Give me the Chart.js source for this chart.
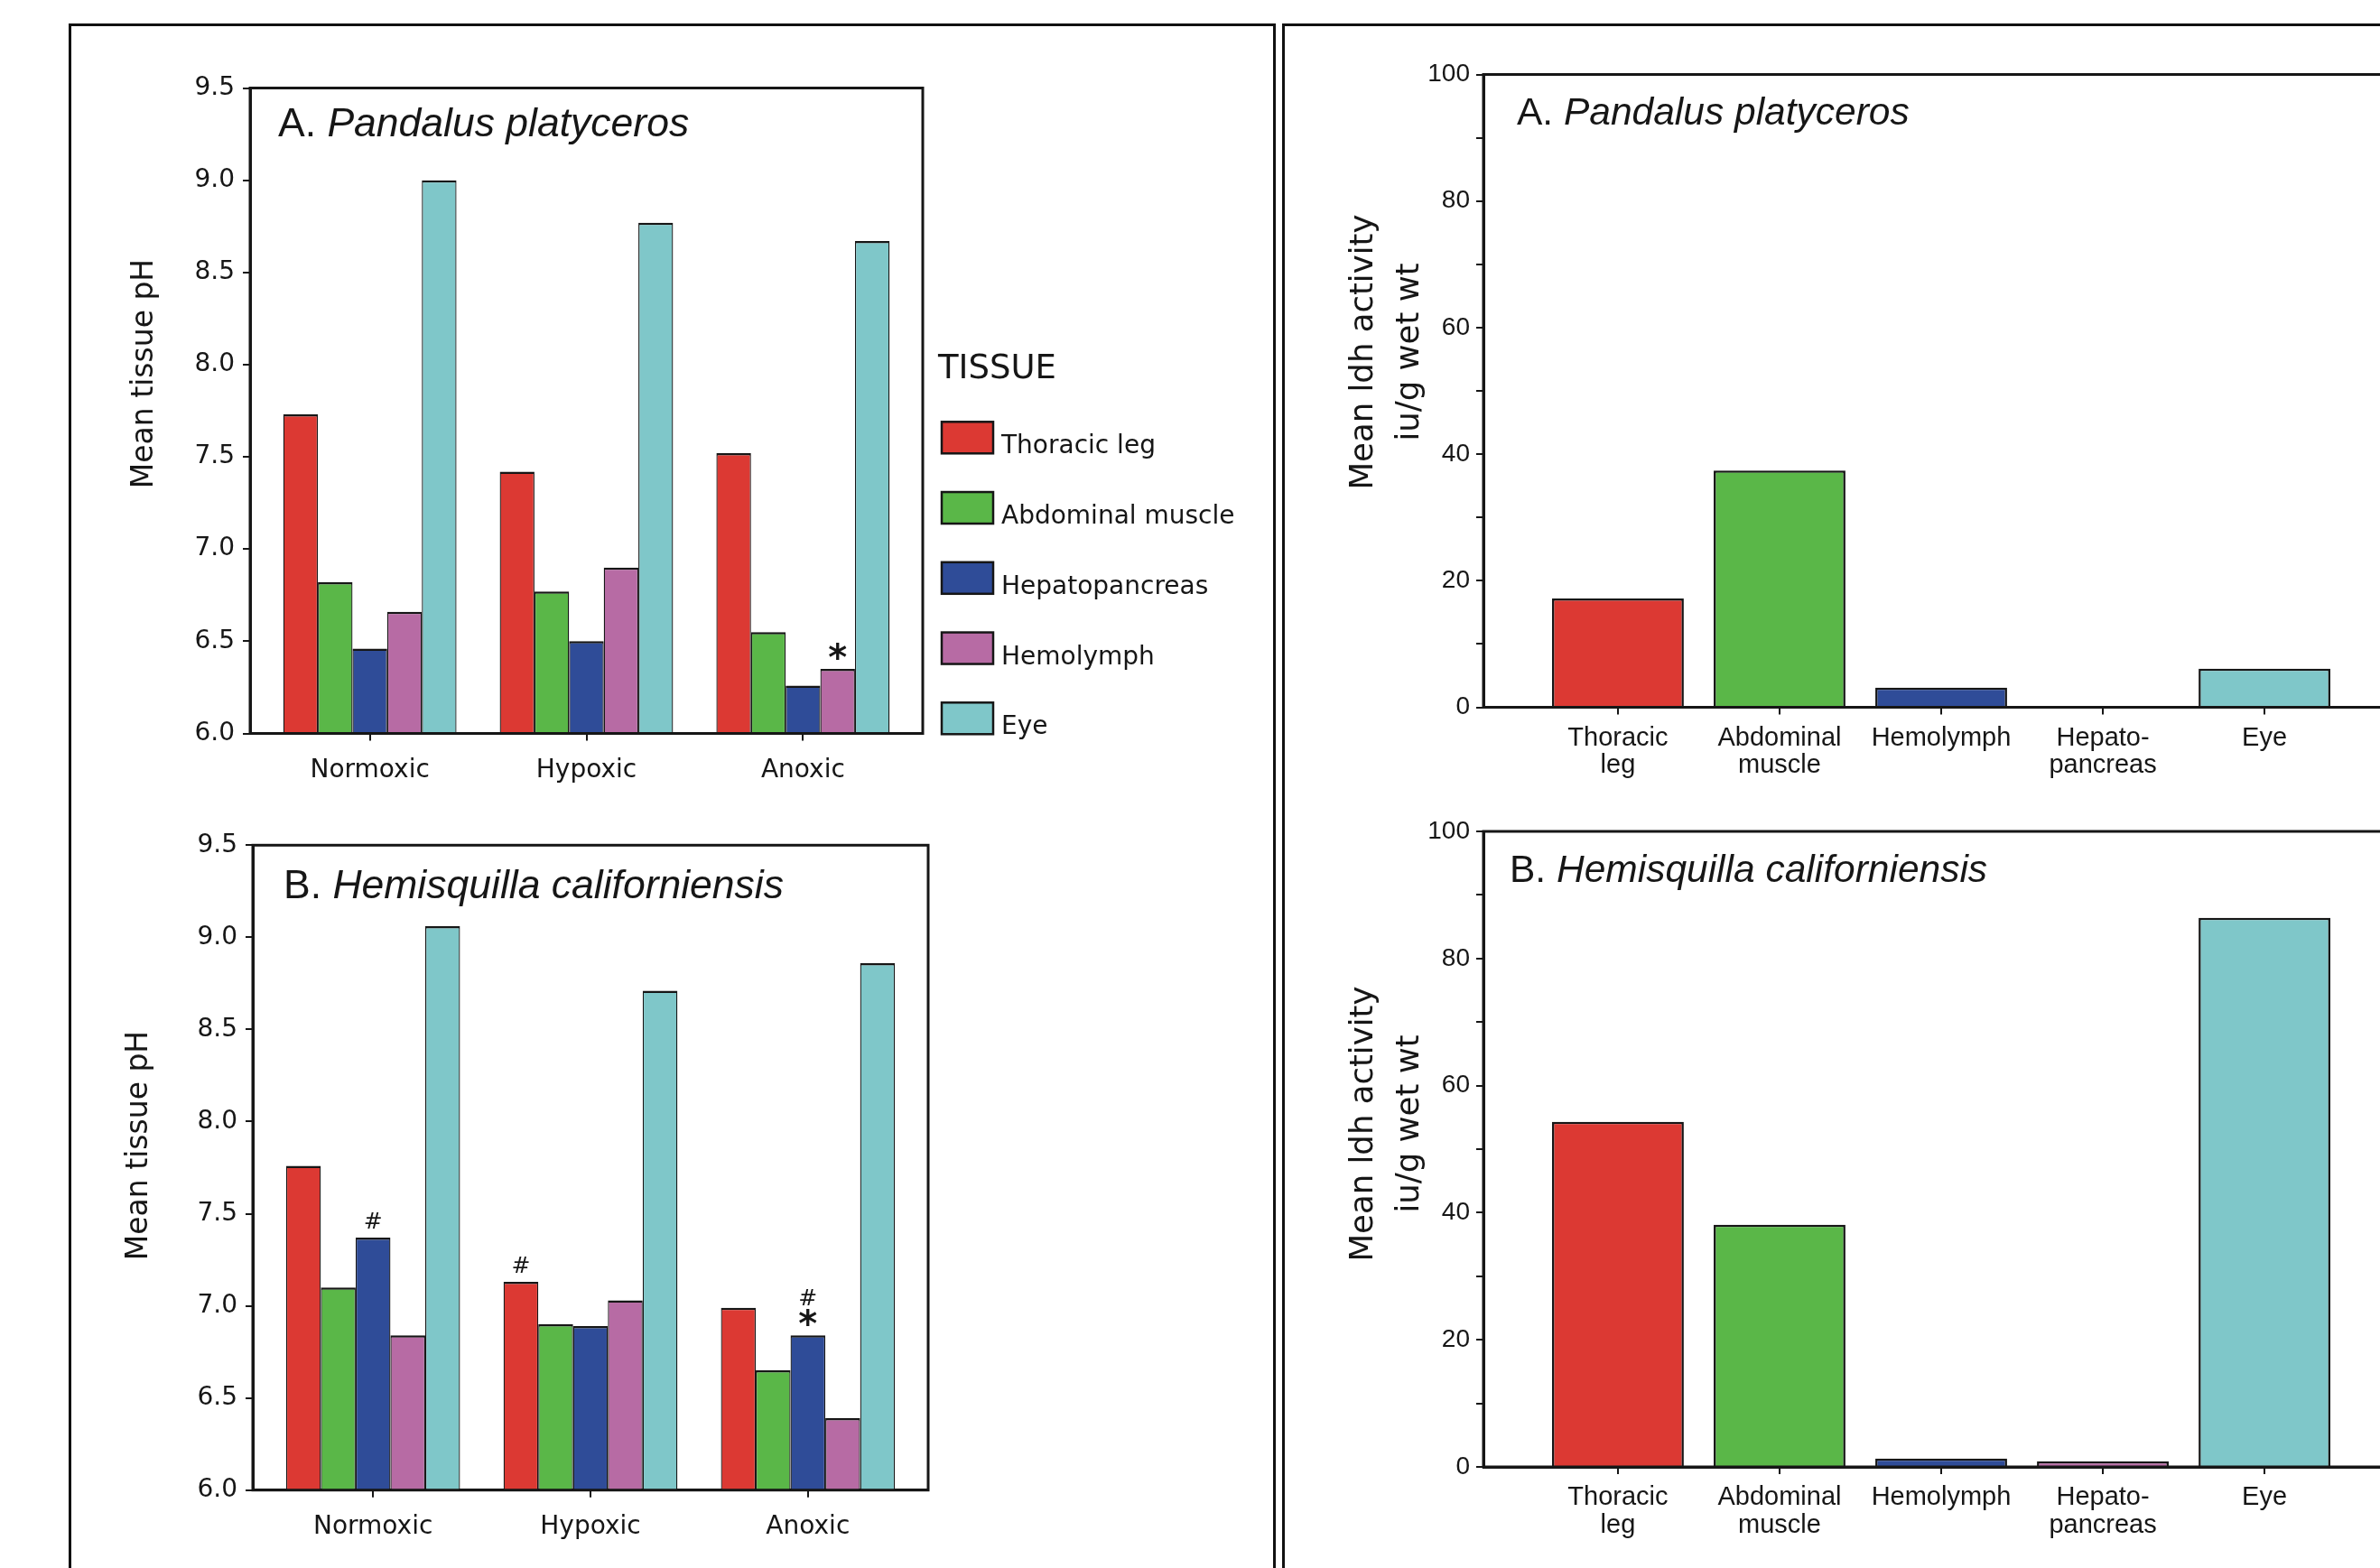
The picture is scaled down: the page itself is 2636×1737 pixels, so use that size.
<!DOCTYPE html>
<html>
<head>
<meta charset="utf-8">
<script src="https://cdn.jsdelivr.net/npm/chart.js@4.4.1/dist/chart.umd.min.js"></script>
<style>
    html, body { margin: 0; padding: 0; background: #fff; overflow: hidden; }
    #page { position: relative; width: 2636px; height: 1737px; overflow: hidden; background: #fff; }
    .panel { position: absolute; border: 3px solid #111; box-sizing: border-box; }
    canvas { position: absolute; }
</style>
</head>
<body>
<div id="page">
    <div class="panel" style="left:76px; top:26px; width:1337px; height:1800px;"></div>
    <div class="panel" style="left:1420px; top:26px; width:1400px; height:1800px;"></div>
    <canvas id="phA" width="1330" height="860" style="left:80px; top:29px;"></canvas>
    <canvas id="phB" width="1330" height="857" style="left:80px; top:880px;"></canvas>
    <canvas id="ldhA" width="1260" height="860" style="left:1424px; top:29px;"></canvas>
    <canvas id="ldhB" width="1260" height="857" style="left:1424px; top:880px;"></canvas>
</div>
<script>
const conditions = ['Normoxic', 'Hypoxic', 'Anoxic'];
const tissues = ['Thoracic leg', 'Abdominal muscle', 'Hepatopancreas', 'Hemolymph', 'Eye'];

// mean tissue pH, one row per tissue, columns follow conditions
const phPandalus = [
    [7.73, 7.42, 7.52],
    [6.82, 6.77, 6.55],
    [6.46, 6.50, 6.26],
    [6.66, 6.90, 6.35],
    [9.00, 8.77, 8.67]
];
const phHemisquilla = [
    [7.76, 7.13, 6.99],
    [7.10, 6.90, 6.65],
    [7.37, 6.89, 6.84],
    [6.84, 7.03, 6.39],
    [9.06, 8.71, 8.86]
];
const phMin = 6.0;
const phMax = 9.5;
const phStep = 0.5;

// significance marks: [tissue row, condition, symbols from top to bottom]
const marksPandalus = [[3, 2, '*']];
const marksHemisquilla = [[2, 0, '#'], [0, 1, '#'], [2, 2, '#*']];

// ldh activity, iu/g wet wt
const ldhTissues = [['Thoracic', 'leg'], ['Abdominal', 'muscle'], 'Hemolymph', ['Hepato-', 'pancreas'], 'Eye'];
const ldhPandalus = [17.2, 37.4, 3.1, 0, 6.1];
const ldhHemisquilla = [54.3, 38.1, 1.3, 0.9, 86.4];
const ldhMax = 100;

const tissueColors = ['#DC3933', '#5AB748', '#2F4C98', '#B76BA4', '#7FC7C9'];
const ldhColors = ['#DC3933', '#5AB748', '#2F4C98', '#B76BA4', '#7FC7C9'];

const ink = '#161616';
const gothic = 'DejaVu Sans';
const arial = 'Liberation Sans';

// page layout of each panel (page pixels)
const panels = {
    phA: {
        origin: [80, 29], area: [277, 97.5, 1022, 812.5],
        title: ['A.', 'Pandalus platyceros', 308, 150.7, 44.5],
        axisTitle: [['Mean tissue pH', 160]], axisTitleY: 414, axisFont: 33,
        marks: marksPandalus, legend: true
    },
    phB: {
        origin: [80, 880], area: [280, 936.3, 1028, 1650.7],
        title: ['B.', 'Hemisquilla californiensis', 314, 994.5, 44.5],
        axisTitle: [['Mean tissue pH', 154]], axisTitleY: 1269, axisFont: 33,
        marks: marksHemisquilla, legend: false
    },
    ldhA: {
        origin: [1424, 29], area: [1643, 82.5, 2657, 783.5],
        title: ['A.', 'Pandalus platyceros', 1680, 138, 42.5],
        axisTitle: [['Mean ldh activity', 1511], ['iu/g wet wt', 1562]], axisTitleY: 390, axisFont: 35.5,
        marks: [], legend: false
    },
    ldhB: {
        origin: [1424, 880], area: [1643, 921, 2657, 1625],
        title: ['B.', 'Hemisquilla californiensis', 1672, 977, 42.5],
        axisTitle: [['Mean ldh activity', 1511], ['iu/g wet wt', 1562]], axisTitleY: 1245, axisFont: 35.5,
        marks: [], legend: false
    }
};

const extras = {
    id: 'extras',
    afterDatasetsDraw(chart) {
        const cfg = panels[chart.canvas.id];
        const ctx = chart.ctx;
        ctx.save();
        ctx.fillStyle = ink;
        ctx.textAlign = 'center';
        ctx.textBaseline = 'alphabetic';
        cfg.marks.forEach(([ds, idx, sym]) => {
            const bar = chart.getDatasetMeta(ds).data[idx];
            let bottom = bar.y - 10;
            for (let k = sym.length - 1; k >= 0; k--) {
                ctx.font = sym[k] === '*' ? 'bold 40px "' + gothic + '"' : '25px "' + gothic + '"';
                const m = ctx.measureText(sym[k]);
                ctx.fillText(sym[k], bar.x, bottom - m.actualBoundingBoxDescent);
                bottom -= m.actualBoundingBoxAscent + m.actualBoundingBoxDescent + 3;
            }
        });
        ctx.restore();
    },
    afterDraw(chart) {
        const cfg = panels[chart.canvas.id];
        const ctx = chart.ctx;
        const ox = cfg.origin[0], oy = cfg.origin[1];
        const a = chart.chartArea;
        ctx.save();
        ctx.strokeStyle = ink;
        ctx.lineWidth = 3;
        ctx.strokeRect(a.left, a.top, a.right - a.left, a.bottom - a.top);

        ctx.fillStyle = ink;
        ctx.textAlign = 'left';
        ctx.textBaseline = 'alphabetic';
        const [prefix, species, tx, ty, ts] = cfg.title;
        ctx.font = ts + 'px "' + arial + '"';
        ctx.fillText(prefix + ' ', tx - ox, ty - oy);
        const w = ctx.measureText(prefix + ' ').width;
        ctx.font = 'italic ' + ts + 'px "' + arial + '"';
        ctx.fillText(species, tx - ox + w, ty - oy);

        ctx.font = cfg.axisFont + 'px "' + gothic + '"';
        ctx.textAlign = 'center';
        ctx.textBaseline = 'middle';
        cfg.axisTitle.forEach(([text, x]) => {
            ctx.save();
            ctx.translate(x - ox, cfg.axisTitleY - oy);
            ctx.rotate(-Math.PI / 2);
            ctx.fillText(text, 0, 0);
            ctx.restore();
        });

        if (cfg.legend) {
            ctx.textAlign = 'left';
            ctx.textBaseline = 'alphabetic';
            ctx.font = '37px "' + gothic + '"';
            ctx.fillText('TISSUE', 1039 - ox, 419 - oy);
            ctx.font = '28px "' + gothic + '"';
            ctx.lineWidth = 2.5;
            chart.data.datasets.forEach((ds, i) => {
                const top = 467.3 + i * 77.75 - oy;
                ctx.fillStyle = ds.backgroundColor;
                ctx.fillRect(1043 - ox, top, 57, 35);
                ctx.strokeRect(1043 - ox, top, 57, 35);
                ctx.fillStyle = ink;
                ctx.fillText(ds.label, 1109 - ox, top + 35);
            });
        }
        ctx.restore();
    }
};

function axisStyle() {
    return {
        grid: { drawOnChartArea: false, tickLength: 8, color: ink, lineWidth: 2, offset: false },
        border: { color: ink, width: 3 }
    };
}

function phChart(id, rows) {
    const pad = { left: 0, top: 0, right: 0, bottom: 0 };
    const chart = new Chart(document.getElementById(id), {
        type: 'bar',
        data: {
            datasets: rows.map((vals, t) => ({
                label: tissues[t],
                data: vals.map((v, i) => ({ x: i, y: v })),
                backgroundColor: tissueColors[t],
                borderColor: ink,
                borderWidth: { top: 2.5, left: 1.3, right: 1.3, bottom: 0 },
                categoryPercentage: 0.8,
                barPercentage: 1
            }))
        },
        options: {
            responsive: false,
            animation: false,
            layout: { padding: pad },
            plugins: { legend: { display: false }, tooltip: { enabled: false } },
            scales: {
                x: Object.assign(axisStyle(), {
                    type: 'linear', min: -0.553, max: 2.553, bounds: 'data', offset: false,
                    afterBuildTicks: s => { s.ticks = conditions.map((c, i) => ({ value: i })); },
                    ticks: {
                        callback: v => conditions[v],
                        font: { family: gothic, size: 28 }, color: ink,
                        padding: 16, maxRotation: 0, autoSkip: false
                    }
                }),
                y: Object.assign(axisStyle(), {
                    min: phMin, max: phMax,
                    ticks: {
                        stepSize: phStep,
                        callback: v => v.toFixed(1),
                        font: { family: gothic, size: 28 }, color: ink, padding: 9
                    }
                })
            }
        },
        plugins: [extras]
    });
    fit(chart, pad);
    return chart;
}

function ldhChart(id, values) {
    const pad = { left: 0, top: 0, right: 0, bottom: 0 };
    const chart = new Chart(document.getElementById(id), {
        type: 'bar',
        data: {
            datasets: [{
                data: values.map((v, i) => ({ x: i, y: v })),
                backgroundColor: ldhColors,
                borderColor: ink,
                borderWidth: 2.5,
                categoryPercentage: 1,
                barPercentage: 0.815
            }]
        },
        options: {
            responsive: false,
            animation: false,
            layout: { padding: pad },
            plugins: { legend: { display: false }, tooltip: { enabled: false } },
            scales: {
                x: Object.assign(axisStyle(), {
                    type: 'linear', min: -0.832, max: 4.832, bounds: 'data', offset: false,
                    afterBuildTicks: s => { s.ticks = ldhTissues.map((c, i) => ({ value: i })); },
                    ticks: {
                        callback: v => ldhTissues[v],
                        font: { family: arial, size: 29, lineHeight: 1.05 }, color: ink,
                        padding: 11, maxRotation: 0, autoSkip: false
                    }
                }),
                y: Object.assign(axisStyle(), {
                    min: 0, max: ldhMax,
                    ticks: {
                        stepSize: 10,
                        callback: v => (v % 20 === 0 ? String(v) : ''),
                        font: { family: arial, size: 28 }, color: ink, padding: 7
                    }
                })
            }
        },
        plugins: [extras]
    });
    fit(chart, pad);
    return chart;
}

// move the plot box onto the spot it has in the figure
function fit(chart, pad) {
    const cfg = panels[chart.canvas.id];
    const [ox, oy] = cfg.origin;
    const [l, t, r, b] = cfg.area;
    for (let k = 0; k < 3; k++) {
        const a = chart.chartArea;
        pad.left += (l - ox) - a.left;
        pad.top += (t - oy) - a.top;
        pad.right += a.right - (r - ox);
        pad.bottom += a.bottom - (b - oy);
        chart.update('none');
    }
}

phChart('phA', phPandalus);
phChart('phB', phHemisquilla);
ldhChart('ldhA', ldhPandalus);
ldhChart('ldhB', ldhHemisquilla);
</script>
</body>
</html>
